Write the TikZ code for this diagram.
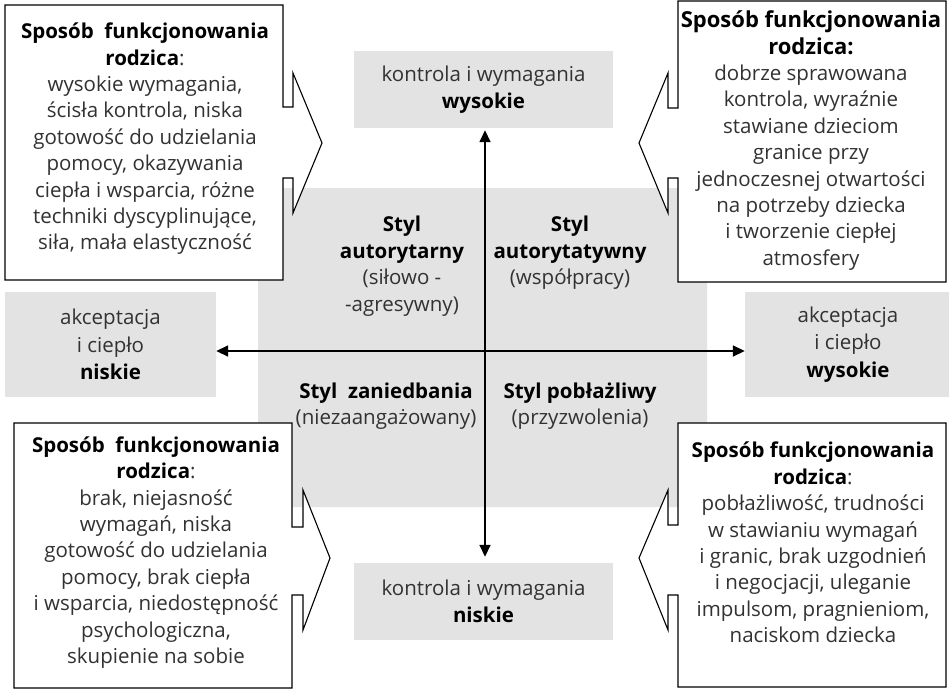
\documentclass[tikz,border=0pt]{standalone}
\usepackage{fontspec}
\setmainfont{Open Sans}
\usetikzlibrary{arrows.meta}
\definecolor{boxgray}{RGB}{227,227,227}
\definecolor{bodytext}{RGB}{50,50,50}
\begin{document}
\begin{tikzpicture}[x=1pt,y=-1pt,
  graybox/.style={fill=boxgray, draw=none, inner sep=0pt, align=center,
    text=bodytext, font=\fontsize{20.5}{27.5}\selectfont},
  callout/.style={draw=black, line width=1.1pt, fill=white, line join=miter},
  body/.style={font=\fontsize{20.5}{26.4}\selectfont, text=bodytext, align=center, inner sep=0pt},
  stylelabel/.style={font=\fontsize{20.5}{26.5}\selectfont, text=bodytext, align=center, inner sep=0pt},
  axis/.style={line width=1.6pt, {Triangle[length=12pt,width=11pt]}-{Triangle[length=12pt,width=11pt]}}
]
\useasboundingbox (0,0) rectangle (949,697);

% central field of the four styles
\fill[boxgray, rounded corners=6pt] (258,188) rectangle (707,507);

% the four poles of the two axes
\node[graybox, minimum width=259pt, minimum height=77pt] (khigh) at (483.5,89.5)
  {kontrola i wymagania\\\textcolor{black}{\textbf{wysokie}}};
\node[graybox, minimum width=259pt, minimum height=77pt] (klow) at (483.5,601.5)
  {kontrola i wymagania\\\textcolor{black}{\textbf{niskie}}};
\node[graybox, minimum width=211pt, minimum height=105pt] (alow) at (110.5,344.5)
  {akceptacja\\i ciepło\\\textcolor{black}{\textbf{niskie}}};
\node[graybox, minimum width=206pt, minimum height=105pt] (ahigh) at (848,344.5)
  {akceptacja\\i ciepło\\\textcolor{black}{\textbf{wysokie}}};

% axes
\coordinate (o) at (485,351);
\draw[axis, shorten <=2pt, shorten >=6pt] (o |- khigh.south) -- (o |- klow.north);
\draw[axis] (alow.east |- o) -- (ahigh.west |- o);

% the four styles
\node[stylelabel] (authoritarian) at (402,266)
  {\textcolor{black}{\textbf{Styl}}\\\textcolor{black}{\textbf{autorytarny}}\\(siłowo -\\-agresywny)};
\node[stylelabel] (authoritative) at (570,253)
  {\textcolor{black}{\textbf{Styl}}\\\textcolor{black}{\textbf{autorytatywny}}\\(współpracy)};
\node[stylelabel] (neglectful) at (386,406)
  {\textcolor{black}{\textbf{Styl\ \ zaniedbania}}\\(niezaangażowany)};
\node[stylelabel] (permissive) at (580,406)
  {\textcolor{black}{\textbf{Styl pobłażliwy}}\\(przyzwolenia)};

% callouts with arrow notches pointing to the centre
\draw[callout] (5,5) -- (283,5) -- (283,107) -- (293,107) -- (293,73) -- (322,143)
  -- (293,213) -- (293,178) -- (283,178) -- (283,280) -- (5,280) -- cycle;
\draw[callout] (678,1) -- (946,1) -- (946,282) -- (678,282) -- (678,178) -- (668,178)
  -- (668,213) -- (639,143) -- (668,73) -- (668,108) -- (678,108) -- cycle;
\draw[callout] (14,423) -- (292,423) -- (292,527) -- (303,527) -- (303,490) -- (330,558)
  -- (303,630) -- (303,595) -- (292,595) -- (292,688) -- (14,688) -- cycle;
\draw[callout] (678,423) -- (946,423) -- (946,687) -- (678,687) -- (678,595) -- (668,595)
  -- (668,630) -- (639,558) -- (668,490) -- (668,525) -- (678,525) -- cycle;

\node[body] (tltext) at (145,139)
  {\textcolor{black}{\textbf{Sposób\ \ funkcjonowania}}\\\textcolor{black}{\textbf{rodzica}}:\\
   wysokie wymagania,\\ścisła kontrola, niska\\gotowość do udzielania\\pomocy, okazywania\\
   ciepła i wsparcia, różne\\techniki dyscyplinujące,\\siła, mała elastyczność};
\node[body] (trtext) at (811,140.5)
  {\textcolor{black}{\fontsize{22}{26.4}\selectfont\textbf{Sposób funkcjonowania}}\\
   \textcolor{black}{\fontsize{22}{26.4}\selectfont\textbf{rodzica:}}\\
   dobrze sprawowana\\kontrola, wyraźnie\\stawiane dzieciom\\granice przy\\
   jednoczesnej otwartości\\na potrzeby dziecka\\i tworzenie ciepłej\\atmosfery};
\node[body] (bltext) at (156,552.5)
  {\textcolor{black}{\textbf{Sposób\ \ funkcjonowania}}\\\textcolor{black}{\textbf{rodzica}}:\\
   brak, niejasność\\wymagań, niska\\gotowość do udzielania\\pomocy, brak ciepła\\
   i wsparcia, niedostępność\\psychologiczna,\\skupienie na sobie};
\node[body] (brtext) at (813,542.5)
  {\textcolor{black}{\textbf{Sposób funkcjonowania}}\\\textcolor{black}{\textbf{rodzica}}:\\
   pobłażliwość, trudności\\w stawianiu wymagań\\i granic, brak uzgodnień\\
   i negocjacji, uleganie\\impulsom, pragnieniom,\\naciskom dziecka};
\end{tikzpicture}
\end{document}
